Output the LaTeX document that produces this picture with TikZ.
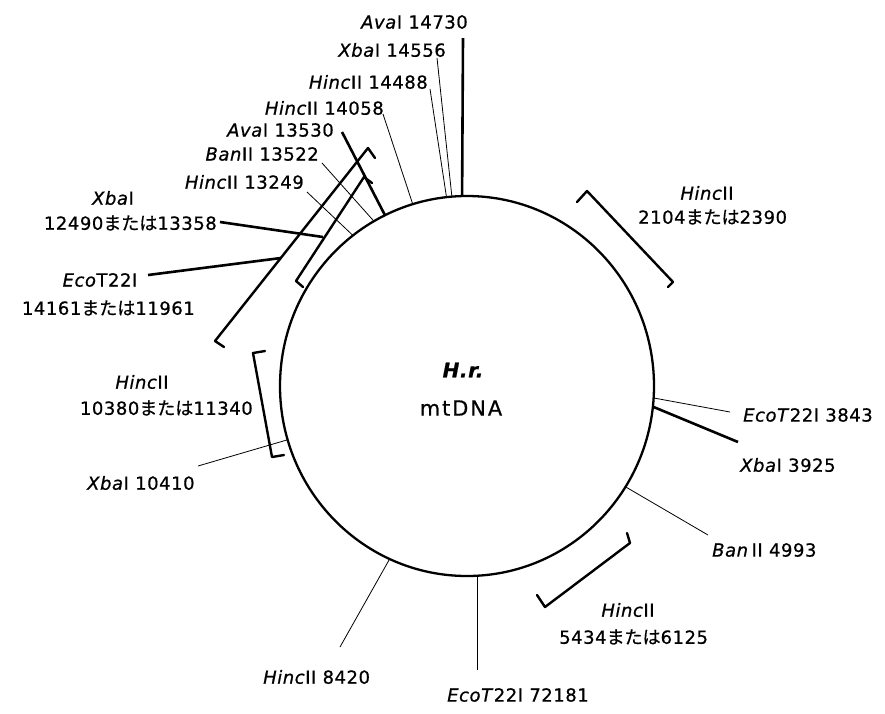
\documentclass[tikz,border=0pt]{standalone}
\usepackage{fontspec}
\setmainfont{DejaVu Sans}[LetterSpace=3, FakeBold=0.7, ItalicFont={DejaVu Sans Oblique}, BoldFont={DejaVu Sans Bold}, BoldItalicFont={DejaVu Sans Bold Oblique}]
\newfontfamily\jpfont{Noto Sans CJK JP}[FakeBold=0.7]
\newcommand{\mtx}{{\jpfont または}}
\begin{document}
\begin{tikzpicture}[x=1pt,y=-1pt,
  lab/.style={inner sep=0pt, font=\fontsize{18}{21}\selectfont},
  thinln/.style={line width=0.8pt},
  thickln/.style={line width=2.6pt},
  brk/.style={line width=2.4pt, line join=round, line cap=round},
  ring/.style={line width=2.3pt, fill=white}]
\useasboundingbox[fill=white] (0,0) rectangle (885,713);
% connector end points
\coordinate (ctr) at (467,386);
\coordinate (a1o) at (463,38);  \coordinate (a1i) at (462,210);
\coordinate (x1o) at (437,58);  \coordinate (x1i) at (453,207);
\coordinate (h1o) at (430,89);  \coordinate (h1i) at (448,207);
\coordinate (h2o) at (383,114); \coordinate (h2i) at (416,214);
\coordinate (a2o) at (342,132); \coordinate (a2i) at (389,223);
\coordinate (b1o) at (322,163); \coordinate (b1i) at (380,228);
\coordinate (h3o) at (307,192); \coordinate (h3i) at (362,244);
\coordinate (x4o) at (198,466); \coordinate (x4i) at (297,437);
\coordinate (e2o) at (730,412); \coordinate (e2i) at (643,396);
\coordinate (x2o) at (738,442); \coordinate (x2i) at (644,403);
\coordinate (b2o) at (708,535); \coordinate (b2i) at (619,483);
\coordinate (e3o) at (477,670); \coordinate (e3i) at (477,566);
\coordinate (h5o) at (340,647); \coordinate (h5i) at (393,553);
% connectors (inner ends hidden by the ring fill)
\draw[thickln] (a1o) -- (a1i);
\draw[thinln] (x1o) -- (x1i);
\draw[thinln] (h1o) -- (h1i);
\draw[thinln] (h2o) -- (h2i);
\draw[thickln] (a2o) -- (a2i);
\draw[thinln] (b1o) -- (b1i);
\draw[thinln] (h3o) -- (h3i);
\draw[thinln] (x4o) -- (x4i);
\draw[thinln] (e2o) -- (e2i);
\draw[thickln] (x2o) -- (x2i);
\draw[thinln] (b2o) -- (b2i);
\draw[thinln] (e3o) -- (e3i);
\draw[thinln] (h5o) -- (h5i);
% the ring
\draw[ring] (ctr) ellipse [x radius=187, y radius=190];
\node[font=\fontsize{20}{24}\selectfont\bfseries\itshape, inner sep=0pt] (hr) at (463,370) {H.r.};
\node[font=\fontsize{21}{24}\selectfont\addfontfeatures{LetterSpace=9}, inner sep=0pt] (mt) at (461,408) {mtDNA};
% brackets
\draw[brk] (375,158) -- (368,148) -- (215,341) -- (224,347);
\draw[brk] (372,183) -- (364,177) -- (296,281) -- (303,287);
\draw[brk] (265,351) -- (253,353) -- (272,457) -- (284,455);
\draw[brk] (577,202) -- (587,191) -- (673,282) -- (668,287);
\draw[brk] (627,533) -- (630,543) -- (545,607) -- (537,595);
% bracket connectors
\coordinate (x3s) at (220,222); \coordinate (x3e) at (323,237);
\coordinate (e1s) at (148,275); \coordinate (e1e) at (281,258);
\draw[thickln] (x3s) -- (x3e);
\draw[thickln] (e1s) -- (e1e);
% labels
\node[lab, anchor=east] (la1) at (468,22) {\textit{Ava}I 14730};
\node[lab, anchor=east] (lx1) at (446,50) {\textit{Xba}I 14556};
\node[lab, anchor=east] (lh1) at (428,82) {\textit{Hinc}II 14488};
\node[lab, anchor=east] (lh2) at (384,108) {\textit{Hinc}II 14058};
\node[lab, anchor=east] (la2) at (334,130) {\textit{Ava}I 13530};
\node[lab, anchor=east] (lb1) at (319,154) {\textit{Ban}II 13522};
\node[lab, anchor=east] (lh3) at (304,182) {\textit{Hinc}II 13249};
\node[lab] (lx3a) at (113,198) {\textit{Xba}I};
\node[lab, anchor=east] (lx3b) at (217,223) {12490\mtx 13358};
\node[lab] (le1a) at (100,280) {\textit{Eco}T22I};
\node[lab, anchor=east] (le1b) at (195,308) {14161\mtx 11961};
\node[lab] (lh4a) at (142,382) {\textit{Hinc}II};
\node[lab, anchor=east] (lh4b) at (253,408) {10380\mtx 11340};
\node[lab, anchor=west] (lx4) at (87,483) {\textit{Xba}I 10410};
\node[lab] (lh6a) at (707,193) {\textit{Hinc}II};
\node[lab, anchor=west] (lh6b) at (638,217) {2104\mtx 2390};
\node[lab, anchor=west] (le2) at (743,415) {\textit{EcoT}22I 3843};
\node[lab, anchor=west] (lx2) at (740,465) {\textit{Xba}I 3925};
\node[lab, anchor=west] (lb2) at (712,550) {\textit{Ban}\,II 4993};
\node[lab] (lh7a) at (628,610) {\textit{Hinc}II};
\node[lab, anchor=west] (lh7b) at (559,637) {5434\mtx 6125};
\node[lab, anchor=west] (lh5) at (263,677) {\textit{Hinc}II 8420};
\node[lab, anchor=west] (le3) at (447,695) {\textit{EcoT}22I 72181};
\end{tikzpicture}
\end{document}
